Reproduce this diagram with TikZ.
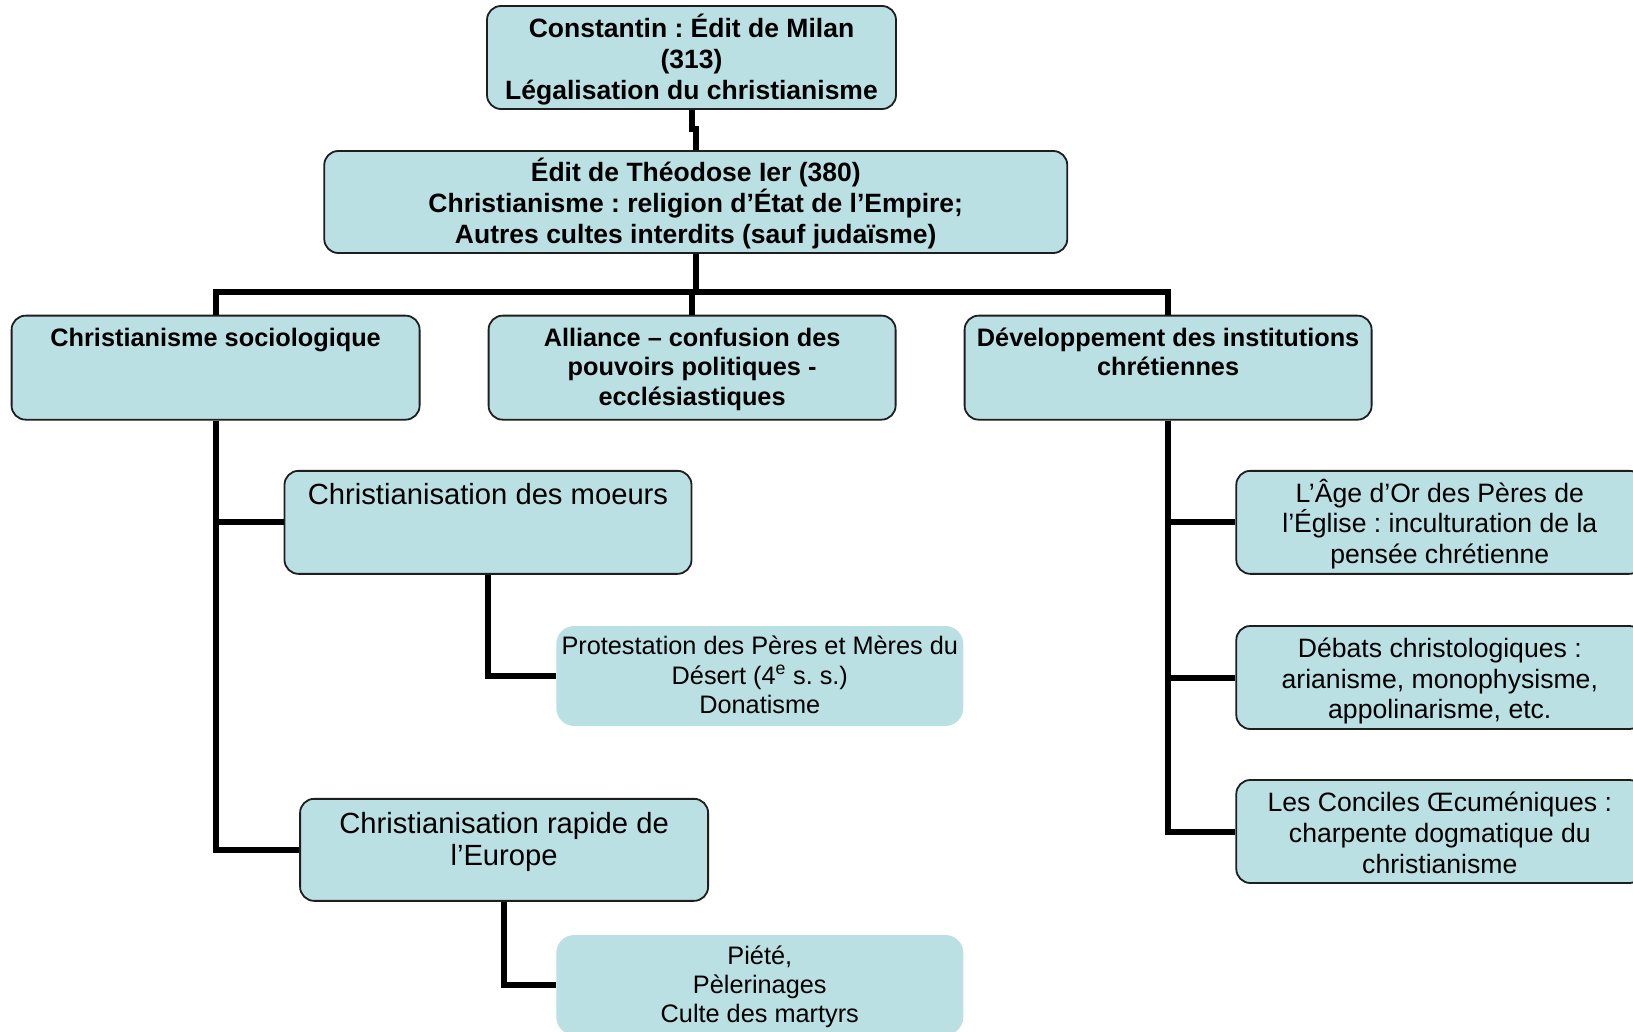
\documentclass[tikz,border=0pt]{standalone}
\usepackage{fontspec}
\setmainfont{Liberation Sans}
\frenchspacing
\definecolor{boxfill}{RGB}{187,224,227}
\definecolor{boxline}{RGB}{30,30,30}
\newcommand\topalign[4]{\parbox[c][#1][t]{#2}{\centering\rule{0pt}{#3}#4\par}}
\newcommand\fbig{\fontsize{26.5}{31.2}\selectfont\bfseries}
\newcommand\frow{\fontsize{25.3}{29.2}\selectfont\bfseries}
\newcommand\fmid{\fontsize{29.2}{32.3}\selectfont}
\newcommand\fright{\fontsize{26.6}{30.7}\selectfont}
\newcommand\fsmall{\fontsize{25.3}{29.2}\selectfont}
\begin{document}
\begin{tikzpicture}[x=1pt,y=-1pt,
  box/.style={draw=boxline, line width=1.8pt, fill=boxfill, rounded corners=14pt, inner sep=0pt, align=center},
  flatbox/.style={fill=boxfill, rounded corners=18pt, inner sep=0pt, align=center},
  conn/.style={line width=6pt, draw=black}]
\path[use as bounding box, fill=white] (0,0) rectangle (1633,1032);
\clip (0,0) rectangle (1633,1032);

% top
\node[box, font=\fbig, minimum width=409pt, minimum height=103pt] (c1) at (691.5,57.5)
  {\topalign{103pt}{400pt}{31.6pt}{Constantin : Édit de Milan\\(313)\\Légalisation du christianisme}};
\node[box, font=\fbig, minimum width=743pt, minimum height=102pt] (c2) at (695.75,202)
  {\topalign{102pt}{735pt}{30.3pt}{Édit de Théodose Ier (380)\\Christianisme : religion d’État de l’Empire;\\Autres cultes interdits (sauf judaïsme)}};

% row
\node[box, font=\frow, minimum width=408pt, minimum height=104pt] (soc) at (215.6,367.65)
  {\topalign{104pt}{400pt}{31pt}{Christianisme sociologique}};
\node[box, font=\frow, minimum width=407pt, minimum height=104pt] (all) at (692.1,367.65)
  {\topalign{104pt}{400pt}{31pt}{Alliance – confusion des\\pouvoirs politiques -\\ecclésiastiques}};
\node[box, font=\frow, minimum width=407pt, minimum height=104pt] (dev) at (1168.1,367.65)
  {\topalign{104pt}{400pt}{31pt}{Développement des institutions\\chrétiennes}};

% left branch
\node[box, font=\fmid, minimum width=407pt, minimum height=103pt] (moeurs) at (488,522.35)
  {\topalign{103pt}{400pt}{33.4pt}{Christianisation des moeurs}};
\node[flatbox, font=\fsmall, minimum width=407pt, minimum height=100pt] (prot) at (759.8,676)
  {\topalign{100pt}{400pt}{28.8pt}{Protestation des Pères et Mères du\\Désert (4\textsuperscript{e} s. s.)\\Donatisme}};
\node[box, font=\fmid, minimum width=408pt, minimum height=102pt] (europe) at (504.1,849.85)
  {\topalign{102pt}{400pt}{34.5pt}{Christianisation rapide de\\l’Europe}};
\node[flatbox, font=\fsmall, minimum width=407pt, minimum height=100pt] (piete) at (759.8,985)
  {\topalign{100pt}{400pt}{29.1pt}{Piété,\\Pèlerinages\\Culte des martyrs}};

% right branch
\node[box, font=\fright, minimum width=407pt, minimum height=103pt] (r1) at (1439.8,522.35)
  {\topalign{103pt}{400pt}{31.4pt}{L’Âge d’Or des Pères de\\l’Église : inculturation de la\\pensée chrétienne}};
\node[box, font=\fright, minimum width=407pt, minimum height=103pt] (r2) at (1439.8,677.5)
  {\topalign{103pt}{400pt}{31.4pt}{Débats christologiques :\\arianisme, monophysisme,\\appolinarisme, etc.}};
\node[box, font=\fright, minimum width=407pt, minimum height=103pt] (r3) at (1439.8,831.5)
  {\topalign{103pt}{400pt}{31.6pt}{Les Conciles Œcuméniques :\\charpente dogmatique du\\christianisme}};

% connectors
\coordinate (bar) at (695.75,292);
\draw[conn] (c1.south) -- ++(0,19) -| (c2.north);
\draw[conn] (c2.south) -- (bar);
\draw[conn] (soc.north) |- (bar) -| (dev.north);
\draw[conn] (all.north) -- (all.north |- bar);
\draw[conn] (soc.south) |- (moeurs.west);
\draw[conn] (soc.south) |- (europe.west);
\draw[conn] (moeurs.south) |- (prot.west);
\draw[conn] (europe.south) |- (piete.west);
\draw[conn] (dev.south) |- (r1.west);
\draw[conn] (dev.south) |- (r2.west);
\draw[conn] (dev.south) |- (r3.west);
\end{tikzpicture}
\end{document}
